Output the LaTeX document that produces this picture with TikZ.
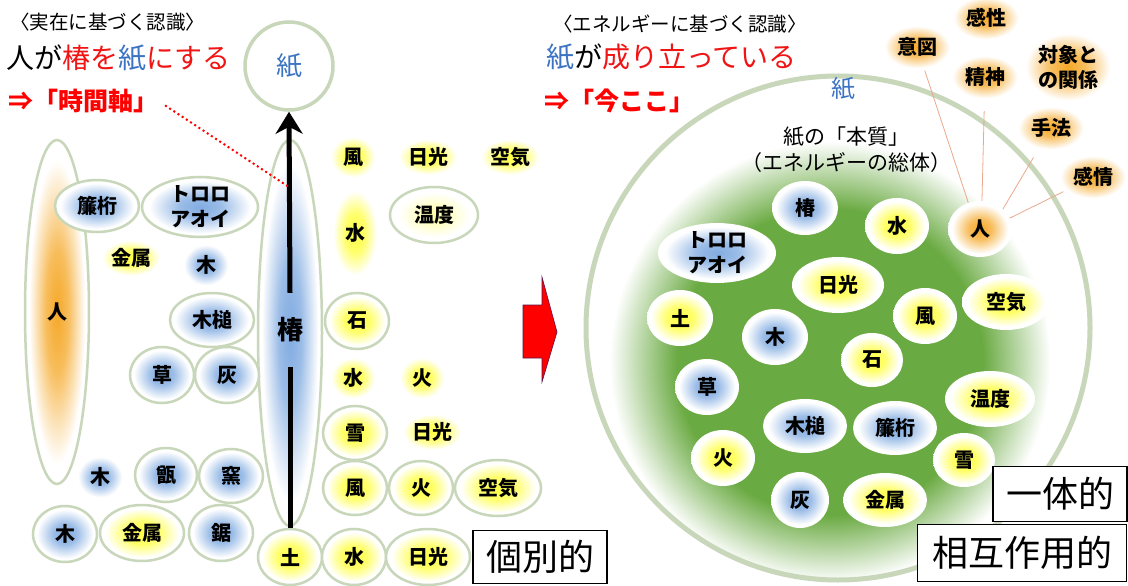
\documentclass[tikz,border=0pt]{standalone}
\usepackage{fontspec}
\setmainfont{Noto Sans CJK JP}
\usetikzlibrary{shapes.geometric,arrows.meta}
\definecolor{bdr}{RGB}{200,214,186}
\definecolor{gB}{RGB}{130,172,225}
\definecolor{gY}{RGB}{255,255,70}
\definecolor{gO}{RGB}{245,168,40}
\definecolor{grn}{RGB}{106,170,66}
\definecolor{rt}{RGB}{240,20,20}
\definecolor{bt}{RGB}{60,115,195}
\definecolor{lnc}{RGB}{236,168,140}
\definecolor{dk}{RGB}{90,20,70}
\pgfdeclareradialshading{glowB}{\pgfpoint{0bp}{0bp}}{color(0bp)=(gB);color(9bp)=(gB!80!white);color(22bp)=(white);color(50bp)=(white)}
\pgfdeclareradialshading{glowY}{\pgfpoint{0bp}{0bp}}{color(0bp)=(gY);color(10bp)=(gY!80!white);color(22bp)=(white);color(50bp)=(white)}
\pgfdeclareradialshading{glowYl}{\pgfpoint{0bp}{0bp}}{color(0bp)=(gY!50!white);color(9bp)=(gY!30!white);color(20bp)=(white);color(50bp)=(white)}
\pgfdeclareradialshading{glowO}{\pgfpoint{0bp}{0bp}}{color(0bp)=(gO);color(9bp)=(gO!75!white);color(22bp)=(white);color(50bp)=(white)}
\pgfdeclareradialshading{greenblob}{\pgfpoint{0bp}{0bp}}{color(0bp)=(grn);color(17bp)=(grn);color(24.5bp)=(white);color(50bp)=(white)}
\begin{document}
\begin{tikzpicture}[x=1pt,y=-1pt,
  lb/.style={font=\bfseries\fontsize{20}{25}\selectfont, align=center},
  el/.style 2 args={ellipse, inner sep=0pt, minimum width=#1pt, minimum height=#2pt},
  ob/.style={draw=bdr, line width=2.5pt},
  gwB/.style={shading=glowB}, gwY/.style={shading=glowY}, gwO/.style={shading=glowO}, gwYl/.style={shading=glowYl},
  wbox/.style={draw=black, line width=1.5pt, fill=white, inner sep=0pt, font=\fontsize{36}{40}\selectfont},
  conn/.style={lnc, line width=0.8pt}]
\fill[white] (0,0) rectangle (1128,586);
\useasboundingbox (0,0) rectangle (1128,586);

% ---------- left titles ----------
\node[anchor=west, font=\fontsize{19.5}{22}\selectfont, inner sep=0pt] (h1) at (10,22) {〈実在に基づく認識〉};
\node[anchor=west, font=\fontsize{28}{32}\selectfont, inner sep=0pt] (t1) at (6,58) {人が\textcolor{rt}{椿を}\textcolor{bt}{紙}\textcolor{rt}{にする}};
\node[anchor=west, font=\bfseries\fontsize{25}{28}\selectfont, text=red, inner sep=0pt] (tjk) at (8,101) {⇒「時間軸」};

% ---------- tall ellipses ----------
\node[el={64}{344}, ob, gwO, lb] (hito) at (57,312) {人};
\node[el={64}{386}, ob, gwB] (tsubaki) at (290,333) {};

% paper circle
\node[circle, draw=bdr, line width=3.5pt, minimum size=88pt, inner sep=0pt, text=bt, font=\fontsize{26}{30}\selectfont] (kami) at (289,66) {紙};

% ---------- left nodes ----------
\node[el={84}{52}, ob, gwB, lb] (a1) at (97,206) {簾桁};
\node[el={116}{56}, ob, gwB, lb] (a2) at (200,207) {トロロ\\アオイ};
\node[el={66}{40}, gwY, lb] (a3) at (131,258) {金属};
\node[el={50}{46}, gwB, lb] (a4) at (206,265) {木};
\node[el={84}{54}, ob, gwB, lb] (a5) at (212,320) {木槌};
\node[el={64}{56}, ob, gwB, lb] (a6) at (162,375) {草};
\node[el={64}{56}, ob, gwB, lb] (a7) at (227,375) {灰};
\node[el={50}{46}, gwB, lb] (a8) at (100,477) {木};
\node[el={62}{54}, ob, gwB, lb] (a9) at (166,475) {甑};
\node[el={64}{54}, ob, gwB, lb] (a10) at (231,476) {窯};
\node[el={64}{56}, ob, gwB, lb] (a11) at (65,534) {木};
\node[el={84}{56}, ob, gwY, lb] (a12) at (142,533) {金属};
\node[el={64}{56}, ob, gwB, lb] (a13) at (221,533) {鋸};

\node[el={64}{56}, ob, gwY, lb] (tsuchi) at (290,557) {土};
\node[el={64}{56}, ob, gwY, lb] (b2) at (354,557) {水};
\node[el={84}{56}, ob, gwY, lb] (b3) at (428,557) {日光};
\node[el={64}{54}, ob, gwY, lb] (b4) at (355,488) {風};
\node[el={64}{54}, ob, gwY, lb] (b5) at (421,488) {火};
\node[el={86}{56}, ob, gwY, lb] (b6) at (498,488) {空気};
\node[el={64}{54}, ob, gwY, lb] (b7) at (355,433) {雪};
\node[el={66}{40}, gwY, lb] (b8) at (432,432) {日光};
\node[el={50}{46}, gwY, lb] (b9) at (353,378) {水};
\node[el={50}{46}, gwY, lb] (b10) at (422,378) {火};
\node[el={64}{56}, ob, gwY, lb] (b11) at (357,321) {石};
\node[el={88}{56}, ob, gwYl, lb] (b12) at (434,215) {温度};
\node[el={50}{96}, gwY, lb] (b13) at (355,233) {水};
\node[el={50}{46}, gwY, lb] (b14) at (353,157) {風};
\node[el={66}{40}, gwY, lb] (b15) at (428,157) {日光};
\node[el={66}{40}, gwY, lb] (b16) at (510,157) {空気};

% time axis arrow
\node[minimum height=74pt, inner sep=0pt, font=\bfseries\fontsize{26}{30}\selectfont] (tsl) at (290,330) {椿};
\draw[line width=5pt] (tsuchi.north) -- (tsl.south);
\draw[line width=5pt, -{Stealth[length=22pt,width=27pt,inset=7pt]}] (tsl.north) -- (kami.south);
\coordinate (axp) at (289,187);
\draw[red, line width=2pt, dash pattern=on 2pt off 3pt, shorten <=8pt] (tjk.east) -- (axp);

\node[wbox, minimum width=134pt, minimum height=53pt] (kobetsu) at (540,557) {個別的};

% ---------- red block arrow ----------
\fill[red, draw=dk, line width=0.6pt] (523,305) -- (542,305) -- (542,277) -- (557,332) -- (542,382) -- (542,358) -- (523,358) -- cycle;

% ---------- right titles ----------
\node[anchor=west, font=\fontsize{19.5}{22}\selectfont, inner sep=0pt] (h2) at (553,24) {〈エネルギーに基づく認識〉};
\node[anchor=west, font=\fontsize{28}{32}\selectfont, inner sep=0pt] (t2) at (546,57) {\textcolor{bt}{紙}が\textcolor{rt}{成り立っている}};
\node[anchor=west, font=\bfseries\fontsize{25}{28}\selectfont, text=red, inner sep=0pt] (ima) at (544,101) {⇒「今ここ」};

% ---------- big circle ----------
\shade[shading=greenblob] (830,362) circle (225);
\node[circle, draw=bdr, line width=5pt, minimum size=504pt, inner sep=0pt] (big) at (838,328) {};
\node[text=bt, font=\fontsize{24}{28}\selectfont] (kami2) at (843,89) {紙};
\node[font=\fontsize{21}{26}\selectfont, align=center] (honshitsu) at (846,150) {紙の「本質」\\（エネルギーの総体）};

% ---------- right inner nodes ----------
\node[el={66}{54}, gwB, lb] (r1) at (805,208) {椿};
\node[el={118}{54}, gwB, lb] (r2) at (717,253) {トロロ\\アオイ};
\node[el={92}{56}, gwY, lb] (r3) at (838,285) {日光};
\node[el={66}{56}, gwY, lb] (r4) at (680,318) {土};
\node[el={66}{56}, gwB, lb] (r5) at (775,337) {木};
\node[el={62}{54}, gwY, lb] (r6) at (872,360) {石};
\node[el={64}{56}, gwB, lb] (r7) at (707,387) {草};
\node[el={64}{56}, gwY, lb] (r8) at (897,226) {水};
\node[el={64}{56}, gwO, lb] (rhito) at (980,229) {人};
\node[el={88}{56}, gwY, lb] (r10) at (1006,302) {空気};
\node[el={64}{56}, gwY, lb] (r11) at (925,316) {風};
\node[el={90}{56}, gwY, lb] (r12) at (990,399) {温度};
\node[el={84}{54}, gwB, lb] (r13) at (895,428) {簾桁};
\node[el={84}{54}, gwB, lb] (r14) at (805,426) {木槌};
\node[el={64}{56}, gwY, lb] (r15) at (723,458) {火};
\node[el={62}{54}, gwY, lb] (r16) at (964,460) {雪};
\node[el={58}{56}, gwB, lb] (r17) at (800,500) {灰};
\node[el={84}{54}, gwY, lb] (r18) at (885,500) {金属};

% ---------- human aspects ----------
\node[el={74}{48}, gwO, lb] (w1) at (986,18) {感性};
\node[el={74}{48}, gwO, lb] (w2) at (917,47) {意図};
\node[el={74}{48}, gwO, lb] (w3) at (985,77) {精神};
\node[el={96}{76}, gwO, lb] (w4) at (1068,67) {対象と\\の関係};
\node[el={74}{48}, gwO, lb] (w5) at (1051,128) {手法};
\node[el={74}{48}, gwO, lb] (w6) at (1093,177) {感情};
\draw[conn] (w2) -- (rhito.114);
\draw[conn, shorten <=10pt] (w3) -- (rhito.86);
\draw[conn, shorten <=8pt] (w5) -- (rhito.41);
\draw[conn] (w6) -- (rhito.20);

\node[wbox, minimum width=134pt, minimum height=55pt] (ittai) at (1060,494) {一体的};
\node[wbox, minimum width=209pt, minimum height=57pt] (sougo) at (1022,553) {相互作用的};
\end{tikzpicture}
\end{document}
